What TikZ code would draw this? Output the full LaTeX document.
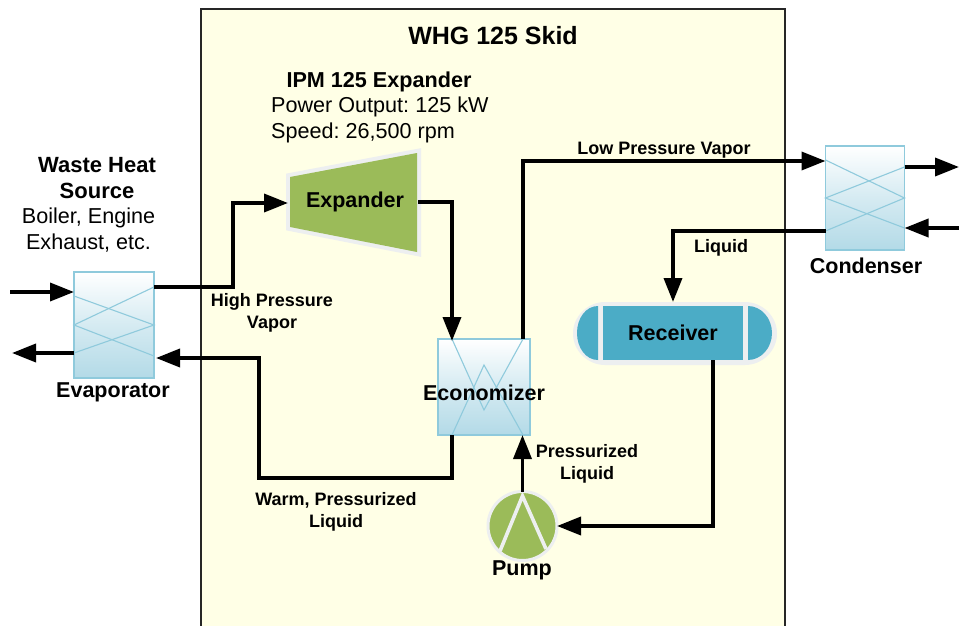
\documentclass[tikz,border=0pt]{standalone}
\usepackage{fontspec}
\setmainfont{Liberation Sans}
\usetikzlibrary{arrows.meta}
\frenchspacing
\definecolor{skid}{HTML}{FFFFE6}
\definecolor{hxline}{HTML}{8FCADC}
\definecolor{hxbot}{HTML}{B3DAE7}
\definecolor{halo}{HTML}{EDEFF0}
\definecolor{grn}{HTML}{9BBB59}
\definecolor{blu}{HTML}{4BACC6}
\tikzset{
  hx/.style={draw=hxline,line width=1.2pt,top color=white,bottom color=hxbot,middle color=hxbot!55,inner sep=0pt,outer sep=0pt},
  hxl/.style={draw=hxline,line width=1.1pt},
  pipe/.style={draw=black,line width=3.6pt,-{Triangle[length=24pt,width=18pt]}},
  big/.style={font=\bfseries\fontsize{21.5}{24}\selectfont,inner sep=0pt},
  lab/.style={font=\bfseries\fontsize{18}{22}\selectfont,inner sep=0pt,align=center},
  reg/.style={font=\fontsize{21.6}{25.5}\selectfont,inner sep=0pt},
}
\begin{document}
\begin{tikzpicture}[x=1pt,y=-1pt]
\useasboundingbox (0,0) rectangle (959,626);
\fill[white] (0,0) rectangle (959,626);
% skid
\path[fill=skid] (201,9) rectangle (785,632);
\draw[line width=1.8pt,black!85] (201,632) -- (201,9) -- (785,9) -- (785,632);
% heat exchangers
\node[hx,minimum width=80pt,minimum height=106pt] (evap) at (114,325) {};
\node[hx,minimum width=79pt,minimum height=104pt] (cond) at (865,198) {};
\node[hx,minimum width=92pt,minimum height=96pt] (econ) at (484,387) {};
\draw[hxl] ([yshift=29]evap.west) -- (evap.east) -- ([yshift=-28]evap.west);
\draw[hxl] ([yshift=38]evap.east) -- (evap.west) -- ([yshift=-31]evap.east);
\draw[hxl] ([yshift=38]cond.west) -- (cond.east) -- ([yshift=-33]cond.west);
\draw[hxl] ([yshift=31]cond.east) -- (cond.west) -- ([yshift=-30]cond.east);
\draw[hxl] ([xshift=-32]econ.north) -- ([yshift=-23]econ.center) -- ([xshift=39]econ.north);
\draw[hxl] ([xshift=-32]econ.south) -- ([yshift=22]econ.center) -- ([xshift=39]econ.south);
% expander
\draw[draw=halo,line width=8pt,line join=miter] (290,177) -- (417,153) -- (417,252) -- (290,227) -- cycle;
\fill[grn] (290,177) -- (417,153) -- (417,252) -- (290,227) -- cycle;
\node[big] (expander) at (355,201.5) {Expander};
\coordinate (expIn) at (288,203);
\coordinate (expOut) at (418,202);
% receiver
\fill[halo] (605,302) -- (745,302) .. controls (762,302) and (777,316) .. (777,333.5) .. controls (777,351) and (762,365) .. (745,365) -- (605,365) .. controls (588,365) and (573,351) .. (573,333.5) .. controls (573,316) and (588,302) .. (605,302) -- cycle;
\node[fill=blu,minimum width=140pt,minimum height=54pt,inner sep=0pt,outer sep=0pt,font=\bfseries\fontsize{21.5}{24}\selectfont] (recv) at (673,333) {Receiver};
\fill[blu] (598,306) -- (598,360) .. controls (586,360) and (577,348) .. (577,333) .. controls (577,318) and (586,306) .. (598,306) -- cycle;
\fill[blu] (748,306) -- (748,360) .. controls (761,360) and (772,348) .. (772,333) .. controls (772,318) and (761,306) .. (748,306) -- cycle;
% pump
\node[circle,fill=grn,draw=halo,line width=3pt,minimum size=69pt,inner sep=0pt,outer sep=0pt] (pump) at (522.5,526) {};
\draw[line width=3.6pt,halo] (500,551) -- (522.5,496) -- (546,549);
% connectors
\coordinate (inA) at (10,292);
\coordinate (outA) at (12,353);
\coordinate (inB) at (959,228);
\coordinate (outB) at (959,167);
\path[pipe] (inA) -- ([yshift=33]evap.west);
\path[pipe] ([yshift=-28]evap.west) -- (outA);
\path[pipe] ([yshift=38]evap.east) -| (233,203) -- (expIn);
\path[pipe] (expOut) -| ([xshift=-32,yshift=-2]econ.north);
\path[pipe] ([xshift=39]econ.north) |- ([yshift=37]cond.west);
\path[pipe] ([yshift=31]cond.east) -- (outB);
\path[pipe] (inB) -- ([yshift=-30]cond.east);
\path[pipe] ([yshift=-33]cond.west) -| ([yshift=4]recv.north);
\path[pipe] ([xshift=40]recv.south) |- (pump.east);
\path[pipe] (pump.north) -- ([xshift=38.5]econ.south);
\path[pipe] ([xshift=-32]econ.south) |- (259,478) -- (259,358) -- (156,358);
% text
\node[big,font=\bfseries\fontsize{25}{28}\selectfont] (title) at (493,36) {WHG 125 Skid};
\node[big,font=\bfseries\fontsize{21.6}{24}\selectfont] (ipm) at (379,81.5) {IPM 125 Expander};
\node[reg,anchor=west] (pw) at (271,106.5) {Power Output: 125 kW};
\node[reg,anchor=west] (sp) at (271,132.5) {Speed: 26,500 rpm};
\node[big,font=\bfseries\fontsize{22}{26}\selectfont,align=center] (wh) at (97,178) {Waste Heat\\Source};
\node[reg,align=center] (be) at (88.5,230) {Boiler, Engine\\Exhaust, etc.};
\node[big] (evl) at (113,392.5) {Evaporator};
\node[big] (col) at (866,265.5) {Condenser};
\node[big] (ecl) at (484,392.5) {Economizer};
\node[big] (pul) at (522,570.5) {Pump};
\node[lab] (hp) at (272,313) {High Pressure\\Vapor};
\node[lab] (wp) at (336,512) {Warm, Pressurized\\Liquid};
\node[lab] (pl) at (587,464) {Pressurized\\Liquid};
\node[lab] (liq) at (721,248) {Liquid};
\node[lab] (lp) at (664,150) {Low Pressure Vapor};
\end{tikzpicture}
\end{document}
